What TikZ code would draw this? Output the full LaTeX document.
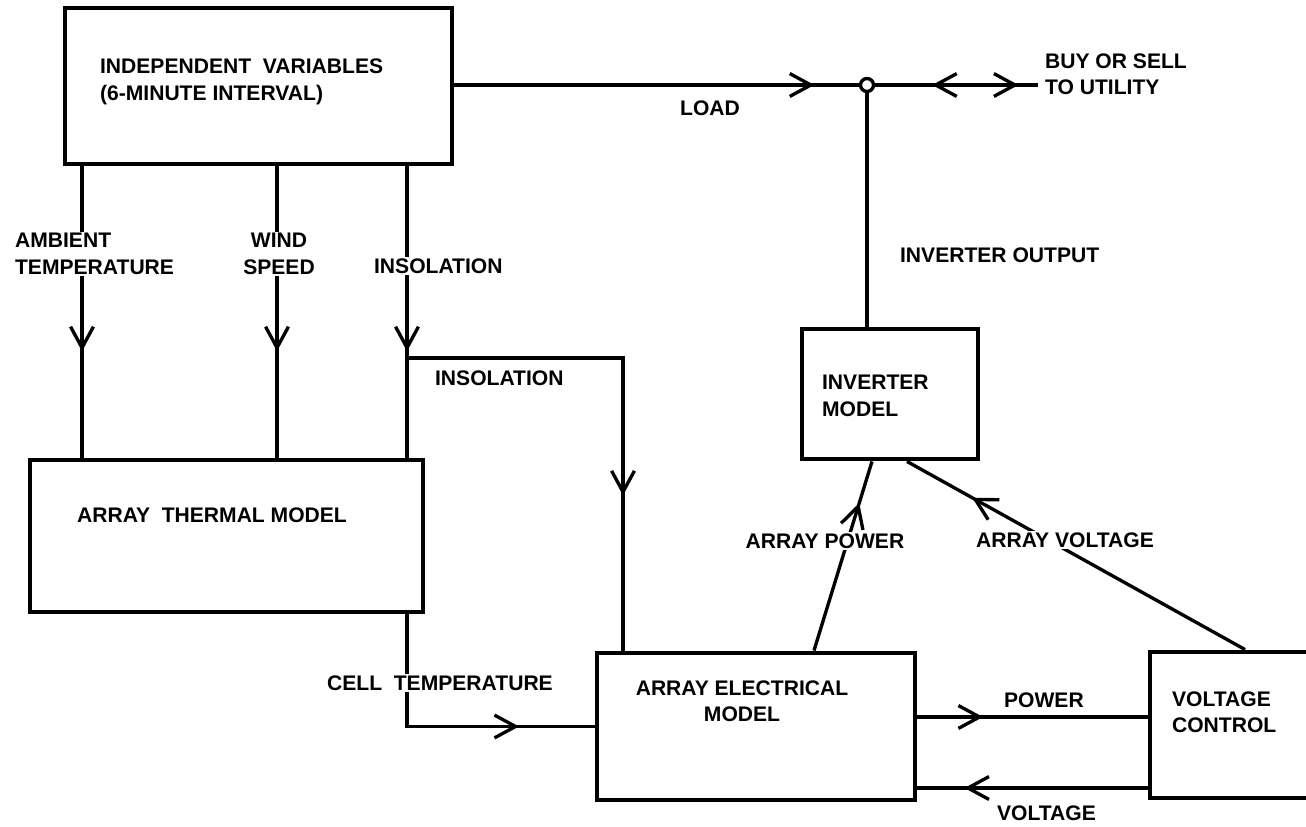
\documentclass[tikz,border=0pt]{standalone}
\usepackage{fontspec}
\setmainfont{Liberation Sans}
\usetikzlibrary{arrows.meta,decorations.markings,fit}

\tikzset{
    block/.style={draw, line width=2.8pt, inner sep=0pt},
    wire/.style={line width=1.9pt},
    lbl/.style={font=\bfseries\fontsize{12}{15}\selectfont, inner sep=1pt, align=left},
    vee/.tip={Straight Barb[length=12pt, width=13pt]},
    midarrow/.style={postaction={decorate}, decoration={markings,
        mark=at position #1 with {\arrow{vee}}}},
    midarrowrev/.style={postaction={decorate}, decoration={markings,
        mark=at position #1 with {\arrowreversed{vee}}}},
}

\begin{document}
\begin{tikzpicture}[x=0.02cm, y=-0.02cm]
    
        \useasboundingbox (0,0) rectangle (1306,827);
        
        \node[block, fit={(65,8) (452,164)}] (iv) {};
        \node[block, fit={(30,460) (423,612)}] (thermal) {};
        \node[block, fit={(597,653) (915,800)}] (elec) {};
        \node[block, fit={(802,329) (978,459)}] (inv) {};
        \node[block, fit={(1150,652) (1340,798)}] (vc) {};
        
        \node[circle, draw, wire, fill=white, inner sep=0pt, minimum size=0.26cm] (junc) at (867,85) {};
        \coordinate (utility) at (1038,85);
        
        \coordinate (colA) at (82,0);
        \coordinate (colB) at (277,0);
        \coordinate (colC) at (407,0);
        \coordinate (colD) at (623,0);
        \coordinate (bend) at (407,358);
        \coordinate (pw) at (0,717);
        \coordinate (vl) at (0,788);
        \coordinate (apb) at (814,0);
        \coordinate (apt) at (872,0);
        \coordinate (avb) at (1245,0);
        \coordinate (avt) at (907,0);
        
        \draw[wire, midarrow=0.89] (iv.east |- junc) -- (junc);
        \draw[wire, postaction={decorate}, decoration={markings,
            mark=at position 0.35 with {\arrowreversed{vee}},
            mark=at position 0.88 with {\arrow{vee}}}] (junc) -- (utility);
        \draw[wire] (inv.north -| junc) -- (junc);
        
        \draw[wire, midarrow=0.635] (iv.south -| colA) -- (thermal.north -| colA);
        \draw[wire, midarrow=0.635] (iv.south -| colB) -- (thermal.north -| colB);
        \draw[wire, midarrow=0.635] (iv.south -| colC) -- (thermal.north -| colC);
        \draw[wire, midarrow=0.695] (bend) -| (elec.north -| colD);
        \draw[wire, midarrow=0.748] (thermal.south -| colC) |- (elec.west);
        
        \draw[wire, midarrow=0.285] (elec.east |- pw) -- (vc.west |- pw);
        \draw[wire, midarrow=0.796] (vc.west |- vl) -- (elec.east |- vl);
        
        \draw[wire, midarrow=0.78] (elec.north -| apb) -- (inv.south -| apt);
        \draw[wire, midarrow=0.807] (vc.north -| avb) -- (inv.south -| avt);
        
        \node[lbl, anchor=west] (ivtext) at (98,82) {INDEPENDENT\ \ VARIABLES\\(6-MINUTE INTERVAL)};
        \node[lbl] (load) at (710,108) {LOAD};
        \node[lbl, anchor=west] (buysell) at (1043,74) {BUY OR SELL\\TO UTILITY};
        \node[lbl, anchor=west] (invout) at (898,255) {INVERTER OUTPUT};
        
        \node[lbl, anchor=west, fill=white] (ambient) at (13,254) {AMBIENT\\TEMPERATURE};
        \node[lbl, align=center, fill=white] (wind) at (279,254) {WIND\\SPEED};
        \node[lbl, anchor=west, fill=white] (insol) at (372,266) {INSOLATION};
        \node[lbl, anchor=west] (insolb) at (433,378) {INSOLATION};
        
        \node[lbl, anchor=west] (thermtext) at (75,515) {ARRAY\ \ THERMAL MODEL};
        \node[lbl, anchor=west, fill=white] (celltemp) at (325,683) {CELL\ \ TEMPERATURE};
        \node[lbl, align=center] (electext) at (742,701) {ARRAY ELECTRICAL\\MODEL};
        \node[lbl, anchor=west] (invtext) at (820,396) {INVERTER\\MODEL};
        
        \node[lbl, fill=white] (arrpower) at (825,541) {ARRAY POWER};
        \node[lbl, fill=white] (arrvolt) at (1065,540) {ARRAY VOLTAGE};
        \node[lbl, anchor=west] (power) at (1002,700) {POWER};
        \node[lbl, anchor=west] (voltage) at (995,813) {VOLTAGE};
        \node[lbl, anchor=west] (vctext) at (1170,712) {VOLTAGE\\CONTROL};
        
\end{tikzpicture}
\end{document}
